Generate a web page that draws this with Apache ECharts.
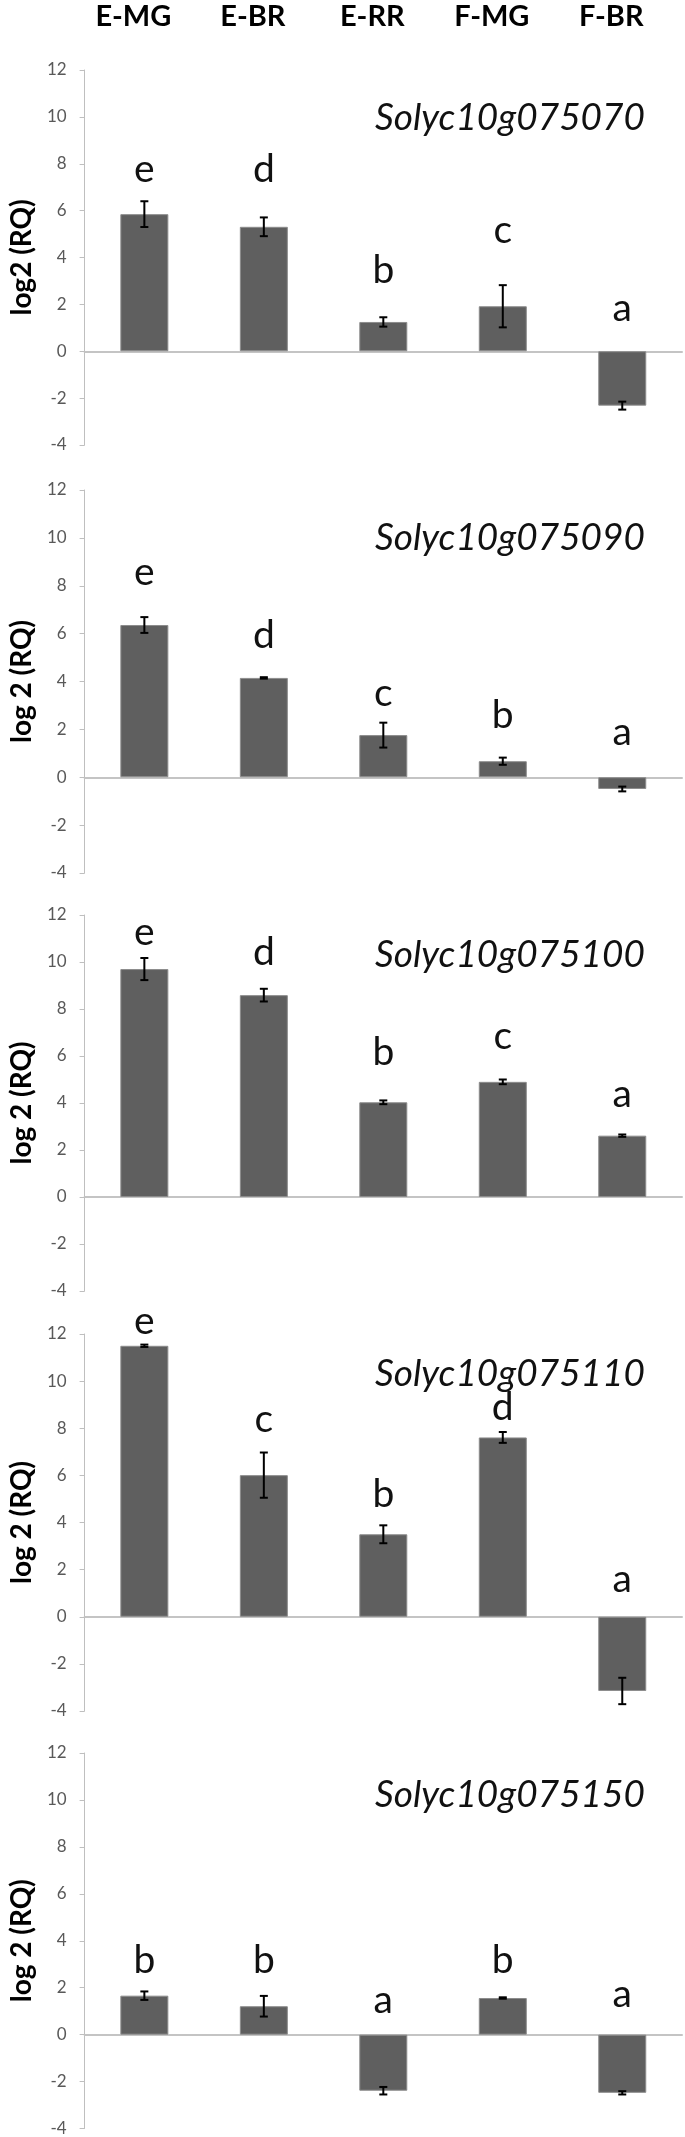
<!DOCTYPE html>
<html>
<head>
<meta charset="utf-8">
<script src="https://cdn.jsdelivr.net/npm/echarts@6/dist/echarts.min.js"></script>
<style>
  html, body { margin: 0; padding: 0; background: #fff; }
  #main { width: 685px; height: 2137px; }
</style>
</head>
<body>
<div id="main"></div>
<script>
// 样本 / 基因
var categories = ['E-MG', 'E-BR', 'E-RR', 'F-MG', 'F-BR'];
var genes = ['Solyc10g075070', 'Solyc10g075090', 'Solyc10g075100', 'Solyc10g075110', 'Solyc10g075150'];
var axisNames = ['log2 (RQ)', 'log 2 (RQ)', 'log 2 (RQ)', 'log 2 (RQ)', 'log 2 (RQ)'];

// log2(RQ) 均值
var values070 = [5.85, 5.31, 1.25, 1.92, -2.32];
var values090 = [6.36, 4.15, 1.76, 0.67, -0.49];
var values100 = [9.70, 8.59, 4.03, 4.90, 2.61];
var values110 = [11.50, 6.01, 3.50, 7.61, -3.15];
var values150 = [1.66, 1.21, -2.39, 1.56, -2.48];

// 误差 (±)
var errors070 = [0.55, 0.40, 0.20, 0.90, 0.17];
var errors090 = [0.33, 0.03, 0.52, 0.15, 0.10];
var errors100 = [0.47, 0.27, 0.08, 0.10, 0.05];
var errors110 = [0.05, 0.96, 0.38, 0.23, 0.56];
var errors150 = [0.18, 0.44, 0.16, 0.03, 0.07];

// 显著性字母 和 它们所在的高度 (log2 单位)
var letters070 = ['e', 'd', 'b', 'c', 'a'];
var letters090 = ['e', 'd', 'c', 'b', 'a'];
var letters100 = ['e', 'd', 'b', 'c', 'a'];
var letters110 = ['e', 'c', 'b', 'd', 'a'];
var letters150 = ['b', 'b', 'a', 'b', 'a'];
var letterAt070 = [7.3, 7.3, 3.0, 4.7, 1.4];
var letterAt090 = [8.13, 5.48, 3.07, 2.13, 1.44];
var letterAt100 = [10.8, 9.95, 5.7, 6.4, 3.9];
var letterAt110 = [12.1, 7.95, 4.75, 8.45, 1.15];
var letterAt150 = [2.7, 2.7, 1.0, 2.7, 1.25];

// Y轴刻度
var yMin = -4, yMax = 12, yStep = 2;

var panels = [
    {values: values070, errors: errors070, letters: letters070, letterAt: letterAt070},
    {values: values090, errors: errors090, letters: letters090, letterAt: letterAt090},
    {values: values100, errors: errors100, letters: letters100, letterAt: letterAt100},
    {values: values110, errors: errors110, letters: letters110, letterAt: letterAt110},
    {values: values150, errors: errors150, letters: letters150, letterAt: letterAt150}
];

// 版面
var gridTops = [70, 490, 915, 1334, 1753];
var gridHeights = [375, 383, 376, 377, 376];
var titleBaseline = [58, 58, 50, 50, 52];
var FONT = 'Lato, "Open Sans", sans-serif';

var eChart = echarts.init(document.getElementById('main'));

var option = {
    animation: false,
    backgroundColor: '#fff',
    title: [],
    grid: [],
    xAxis: [],
    yAxis: [],
    series: []
};

panels.forEach(function (p, i) {
    option.grid.push({left: 82, right: 3, top: gridTops[i], height: gridHeights[i]});

    option.title.push({
        text: genes[i],
        right: 35,
        top: gridTops[i] + titleBaseline[i] - 33,
        textStyle: {fontFamily: FONT, fontStyle: 'italic', fontWeight: 'normal', fontSize: 37, color: '#111'}
    });

    option.xAxis.push({
        type: 'category',
        gridIndex: i,
        data: categories,
        axisLine: {onZero: true, lineStyle: {color: '#c4c4c4', width: 2}},
        axisTick: {show: false},
        axisLabel: {show: false}
    });

    option.yAxis.push({
        type: 'value',
        gridIndex: i,
        min: yMin,
        max: yMax,
        interval: yStep,
        name: axisNames[i],
        nameLocation: 'middle',
        nameGap: 41,
        nameTextStyle: {fontFamily: FONT, fontWeight: 'bold', fontSize: 28, color: '#000'},
        axisLine: {show: true, lineStyle: {color: '#bfbfbf', width: 1}},
        axisTick: {show: true, length: 5, lineStyle: {color: '#bfbfbf'}},
        axisLabel: {fontFamily: FONT, fontSize: 17, color: '#595959', margin: 18},
        splitLine: {show: false}
    });

    // 柱子
    option.series.push({
        type: 'bar',
        xAxisIndex: i,
        yAxisIndex: i,
        barWidth: 48,
        data: p.values,
        itemStyle: {color: '#5f5f5f', borderColor: '#8c8c8c', borderWidth: 1}
    });

    // 误差线
    option.series.push({
        type: 'custom',
        xAxisIndex: i,
        yAxisIndex: i,
        data: p.values.map(function (v, k) { return [k, v - p.errors[k], v + p.errors[k]]; }),
        renderItem: function (params, api) {
            var lo = api.coord([api.value(0), api.value(1)]);
            var hi = api.coord([api.value(0), api.value(2)]);
            var w = 4;
            var st = {stroke: '#000', lineWidth: 2};
            return {
                type: 'group',
                children: [
                    {type: 'line', shape: {x1: lo[0], y1: lo[1], x2: hi[0], y2: hi[1]}, style: st},
                    {type: 'line', shape: {x1: lo[0] - w, y1: lo[1], x2: lo[0] + w, y2: lo[1]}, style: st},
                    {type: 'line', shape: {x1: hi[0] - w, y1: hi[1], x2: hi[0] + w, y2: hi[1]}, style: st}
                ]
            };
        },
        z: 5
    });

    // 字母
    option.series.push({
        type: 'custom',
        xAxisIndex: i,
        yAxisIndex: i,
        data: p.letterAt.map(function (v, k) { return [k, v, p.letters[k]]; }),
        renderItem: function (params, api) {
            var pt = api.coord([api.value(0), api.value(1)]);
            return {
                type: 'text',
                x: pt[0],
                y: pt[1] + 9,
                style: {
                    text: p.letters[params.dataIndex],
                    fontFamily: FONT,
                    fontSize: 39,
                    fill: '#111',
                    align: 'center',
                    verticalAlign: 'bottom'
                }
            };
        },
        z: 6
    });
});

// 顶部样本名
option.xAxis.push({
    type: 'category',
    gridIndex: 0,
    position: 'top',
    data: categories,
    axisLine: {show: false, onZero: false},
    axisTick: {show: false},
    axisLabel: {
        fontFamily: FONT, fontWeight: 'bold', fontSize: 29, color: '#000',
        margin: 39, padding: [0, 22, 0, 0]
    }
});

eChart.setOption(option);
</script>
</body>
</html>
